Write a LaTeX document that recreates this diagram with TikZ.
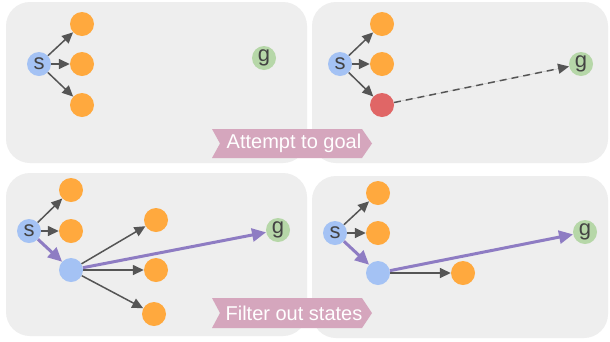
\documentclass[tikz,border=0pt]{standalone}
\usepackage{fontspec}
\setmainfont{Liberation Sans}
\usetikzlibrary{arrows.meta}
\definecolor{panelc}{HTML}{EEEEEE}
\definecolor{bluec}{HTML}{A4C2F4}
\definecolor{orangec}{HTML}{FFA93E}
\definecolor{greenc}{HTML}{B6D7A8}
\definecolor{redc}{HTML}{E06666}
\definecolor{purplec}{HTML}{8E7CC3}
\definecolor{grayc}{HTML}{555555}
\definecolor{txtc}{HTML}{434343}
\definecolor{bannerc}{HTML}{D5A6BD}
\begin{document}
\begin{tikzpicture}[x=1pt,y=-1pt,
  panel/.style={fill=panelc, rounded corners=24pt},
  st/.style={circle, minimum size=24pt, inner sep=0pt, text=txtc, font=\fontsize{22}{22}\selectfont},
  snode/.style={st, fill=bluec},
  gnode/.style={st, fill=greenc},
  onode/.style={st, fill=orangec},
  rnode/.style={st, fill=redc},
  bnode/.style={st, fill=bluec},
  garr/.style={draw=grayc, line width=1.5pt, -{Triangle[length=11pt,width=10pt]}, fill=grayc},
  parr/.style={draw=purplec, line width=3pt, -{Triangle[length=14pt,width=13pt]}, fill=purplec},
  banner/.style={fill=bannerc},
  bantext/.style={text=white, font=\fontsize{20}{20}\selectfont, inner sep=0pt}
]
\useasboundingbox (0,0) rectangle (610,341);
\fill[white] (0,0) rectangle (610,341);
% panels
\fill[panel] (6,2) rectangle (307,163);
\fill[panel] (312,2) rectangle (608,163);
\fill[panel] (6,173) rectangle (307,336);
\fill[panel] (312,176) rectangle (608,338);

% panel 1
\node[snode] (s1) at (39,64) {s};
\node[onode] (a1) at (82,24) {};
\node[onode] (b1) at (82,64) {};
\node[onode] (c1) at (82,105) {};
\node[gnode] (g1) at (264,58) {g};
\draw[garr] (s1) -- (a1);
\draw[garr] (s1) -- (b1);
\draw[garr] (s1) -- (c1);

% panel 2
\node[snode] (s2) at (340,64) {s};
\node[onode] (a2) at (382,24) {};
\node[onode] (b2) at (382,64) {};
\node[rnode] (c2) at (382,105) {};
\node[gnode] (g2) at (581,64) {g};
\draw[garr] (s2) -- (a2);
\draw[garr] (s2) -- (b2);
\draw[garr] (s2) -- (c2);
\draw[garr, dash pattern=on 7pt off 5pt] (c2) -- (g2);

% panel 3
\node[snode] (s3) at (29,231) {s};
\node[onode] (a3) at (71,190) {};
\node[onode] (b3) at (71,231) {};
\node[bnode] (m3) at (71,270) {};
\node[onode] (d3) at (156,220) {};
\node[onode] (e3) at (156,270) {};
\node[onode] (f3) at (154,314) {};
\node[gnode] (g3) at (278,230) {g};
\draw[garr] (s3) -- (a3);
\draw[garr] (s3) -- (b3);
\draw[parr] (s3) -- (m3);
\draw[garr] (m3) -- (d3);
\draw[garr] (m3) -- (e3);
\draw[garr] (m3) -- (f3);
\draw[parr] (m3) -- (g3);

% panel 4
\node[snode] (s4) at (335,233) {s};
\node[onode] (a4) at (378,193) {};
\node[onode] (b4) at (378,233) {};
\node[bnode] (m4) at (378,273) {};
\node[onode] (d4) at (463,273) {};
\node[gnode] (g4) at (585,232) {g};
\draw[garr] (s4) -- (a4);
\draw[garr] (s4) -- (b4);
\draw[parr] (s4) -- (m4);
\draw[garr] (m4) -- (d4);
\draw[parr] (m4) -- (g4);

% banners
\fill[banner] (212,129) -- (362,129) -- (372,143.5) -- (362,158) -- (212,158) -- (220,143.5) -- cycle;
\node[bantext] (t1) at (294,143.5) {Attempt to goal};
\fill[banner] (212,298) -- (362,298) -- (372,313) -- (362,328) -- (212,328) -- (220,313) -- cycle;
\node[bantext] (t2) at (294,313) {Filter out states};
\end{tikzpicture}
\end{document}
